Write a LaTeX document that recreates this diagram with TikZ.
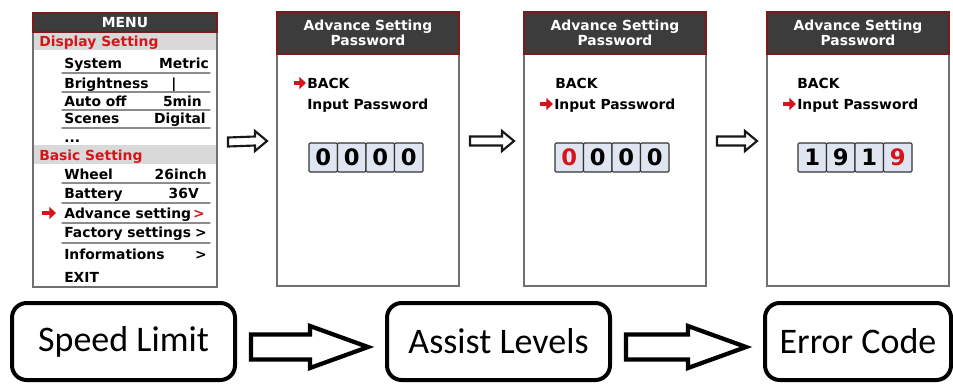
\documentclass[tikz,border=0pt]{standalone}
\usepackage{fontspec}
\setmainfont{DejaVu Sans}
\newfontfamily\boxfont{Carlito}
\usetikzlibrary{arrows.meta,calc,fit}
\definecolor{hdgray}{HTML}{3C3C3C}
\definecolor{hdred}{HTML}{7A1C1C}
\definecolor{bandgray}{HTML}{D9D9D9}
\definecolor{mred}{HTML}{D7141A}
\definecolor{cellblue}{HTML}{DFE6F1}
\definecolor{frame}{HTML}{707070}
\tikzset{
  panel/.style={draw=frame, line width=1.5pt, inner sep=0pt},
  hdr/.style={fill=hdgray, draw=hdred, line width=0.8pt},
  hdtxt/.style={anchor=base, inner sep=0pt, text=white, font=\bfseries\fontsize{10.4}{12}\selectfont},
  txt/.style={anchor=base west, inner sep=0pt, font=\bfseries\fontsize{10.4}{12}\selectfont},
  val/.style={anchor=base east, inner sep=0pt, font=\bfseries\fontsize{10.4}{12}\selectfont},
  sepline/.style={draw=black!45, line width=1.1pt},
  ptr/.style={draw=mred, line width=2.6pt, line cap=butt, -{Triangle[length=5pt,width=9pt]}},
  digit/.style={draw=black!80, fill=cellblue, line width=0.8pt, rounded corners=0.8pt,
    minimum width=28.5*0.75pt, minimum height=29*0.75pt, inner sep=0pt,
    font=\bfseries\fontsize{17}{17}\selectfont},
  hollow/.style={draw=black!90, line width=1.6pt, fill=white, line join=miter},
  bighollow/.style={draw=black, line width=3.2pt, fill=white, line join=miter},
  choice/.style={draw=black, line width=3pt, rounded corners=11pt, inner sep=0pt,
    font=\boxfont\fontsize{27}{30}\selectfont}
}
\begin{document}
\begin{tikzpicture}[x=0.75pt, y=-0.75pt, line cap=round]
  \useasboundingbox (0,0) rectangle (953,386);
  % menu screen
  \node[panel, fit={(33,13) (217,287)}] (menu) {};
  \draw[hdr] (33,13) rectangle (217,32);
  \node[hdtxt] (menuhd) at (125,27) {MENU};
  \fill[bandgray] (34,33) rectangle (216,50);
  \fill[bandgray] (34,145) rectangle (216,164);
  \node[txt, text=mred] (disp) at (39,46) {Display Setting};
  \node[txt, text=mred] (basic) at (39,160) {Basic Setting};
  \foreach \y/\a in {68/System, 88/Brightness, 106/Auto off, 123/Scenes, 142/{...},
    179/Wheel, 198/Battery, 218/Advance setting, 237/Factory settings, 259/Informations, 282/EXIT}
    \node[txt] (row\y) at (64,\y) {\a};
  \foreach \y/\x/\v in {68/209/Metric, 106/202/5min, 123/206/Digital, 179/207/26inch,
    198/199/36V, 237/207/{>}, 259/207/{>}}
    \node[val] (val\y) at (\x,\y) {\v};
  \node[txt, anchor=base] (bright) at (174,88) {|};
  \node[val, text=mred] (adv) at (205,218) {>};
  \foreach \y in {73,92,110,128,183,203,223,243}
    \draw[sepline] (62,\y) -- (210,\y);
  \draw[ptr] (42,213) -- (56,213);
  % password screens
  \foreach \n/\x in {pw1/277, pw2/524, pw3/767} {
    \node[panel, fit={(\x,12) ({\x+182},286)}] (\n) {};
    \draw[hdr] (\x,12) rectangle ({\x+182},54);
    \node[hdtxt] (\n a) at ({\x+91},30) {Advance Setting};
    \node[hdtxt] (\n b) at ({\x+91},45.5) {Password};
  }
  \node[txt] (back1) at (307,88) {BACK};
  \node[txt] (inp1) at (307,109) {Input Password};
  \draw[ptr] (294,83) -- (306,83);
  \node[txt] (back2) at (555,88) {BACK};
  \node[txt] (inp2) at (554,109) {Input Password};
  \draw[ptr] (540,104) -- (553,104);
  \node[txt] (back3) at (797,88) {BACK};
  \node[txt] (inp3) at (797,109) {Input Password};
  \draw[ptr] (783,104) -- (796,104);
  \foreach \d/\c [count=\i] in {0/black,0/black,0/black,0/black}
    \node[digit, text=\c] (da\i) at ({309+28.5*(\i-0.5)},157.5) {\d};
  \foreach \d/\c [count=\i] in {0/mred,0/black,0/black,0/black}
    \node[digit, text=\c] (db\i) at ({555+28.5*(\i-0.5)},157.5) {\d};
  \foreach \d/\c [count=\i] in {1/black,9/black,1/black,9/mred}
    \node[digit, text=\c] (dc\i) at ({798+28.5*(\i-0.5)},157.5) {\d};
  % small hollow arrows
  \foreach \a/\b in {menu/pw1, pw1/pw2, pw2/pw3} {
    \coordinate (t) at ($(\a.east)+(10,-8)$);
    \coordinate (h) at ($(\b.west)+(-9,-8)$);
    \draw[hollow] ($(t)+(0,-4.5)$) -- ($(h)+(-12,-4.5)$) -- ($(h)+(-12,-10)$) -- (h)
      -- ($(h)+(-12,10)$) -- ($(h)+(-12,4.5)$) -- ($(t)+(0,4.5)$) -- cycle;
  }
  % bottom row
  \node[choice, minimum width=223*0.75pt, minimum height=77*0.75pt] (sl) at (123.5,341.5) {Speed Limit};
  \node[choice, minimum width=223*0.75pt, minimum height=77*0.75pt] (al) at (498.5,341.5) {Assist Levels};
  \node[choice, minimum width=186*0.75pt, minimum height=77*0.75pt] (ec) at (858,341.5) {Error Code};
  \foreach \a/\b in {sl/al, al/ec} {
    \coordinate (t) at ($(\a.east)+(14,5.5)$);
    \coordinate (h) at ($(\b.west)+(-17,5.5)$);
    \draw[bighollow] ($(t)+(0,-12.5)$) -- ($(h)+(-58,-12.5)$) -- ($(h)+(-58,-21)$) -- (h)
      -- ($(h)+(-58,21)$) -- ($(h)+(-58,12.5)$) -- ($(t)+(0,12.5)$) -- cycle;
  }
\end{tikzpicture}
\end{document}
